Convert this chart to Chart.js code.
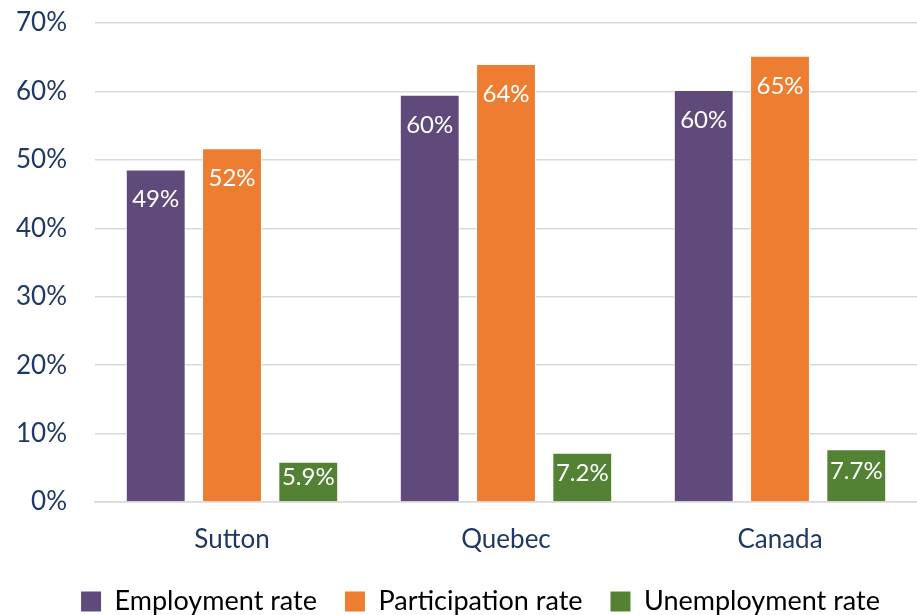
<!DOCTYPE html>
<html>
<head>
<meta charset="utf-8">
<script src="https://cdn.jsdelivr.net/npm/chart.js@4/dist/chart.umd.min.js"></script>
<style>
  html, body { margin: 0; padding: 0; background: #fff; }
  #wrap { width: 917px; height: 615px; }
</style>
</head>
<body>
<div id="wrap"><canvas id="chart" width="917" height="615"></canvas></div>
<script>
const places = ["Sutton", "Quebec", "Canada"];
const employment = [48.6, 59.5, 60.2];
const participation = [51.7, 64.0, 65.2];
const unemployment = [5.9, 7.2, 7.7];
const employmentLabels = ["49%", "60%", "60%"];
const participationLabels = ["52%", "64%", "65%"];
const unemploymentLabels = ["5.9%", "7.2%", "7.7%"];

const navy = "#1F3864";
const fontFamily = "Lato, 'Open Sans', sans-serif";

// draw the value labels inside the bar tops
const barLabels = {
  id: "barLabels",
  afterDatasetsDraw(chart) {
    const ctx = chart.ctx;
    ctx.save();
    ctx.fillStyle = "#fff";
    ctx.font = "24px " + fontFamily;
    ctx.textAlign = "center";
    ctx.textBaseline = "middle";
    chart.data.datasets.forEach((ds, di) => {
      const meta = chart.getDatasetMeta(di);
      meta.data.forEach((bar, i) => {
        const h = bar.base - bar.y;
        const y = bar.y + Math.min(30, h / 2 - 4);
        ctx.fillText(ds.valueLabels[i], bar.x, y);
      });
    });
    ctx.restore();
  }
};

// shorter legend box, nudged a bit to the right and down
const legendTweak = {
  id: "legendTweak",
  afterInit(chart) {
    const legend = chart.legend;
    const fit = legend.fit;
    const draw = legend.draw;
    legend.fit = function () {
      fit.call(this);
      this.height = 62;
    };
    legend.draw = function () {
      const ctx = this.ctx;
      ctx.save();
      ctx.translate(22, 7);
      draw.call(this);
      ctx.restore();
    };
  }
};

new Chart(document.getElementById("chart"), {
  type: "bar",
  data: {
    labels: places,
    datasets: [
      { label: "Employment rate", data: employment, valueLabels: employmentLabels,
        backgroundColor: "#604A7B", borderColor: "#ffffff", borderWidth: 1 },
      { label: "Participation rate", data: participation, valueLabels: participationLabels,
        backgroundColor: "#ED7D31", borderColor: "#ffffff", borderWidth: 1 },
      { label: "Unemployment rate", data: unemployment, valueLabels: unemploymentLabels,
        backgroundColor: "#548235", borderColor: "#ffffff", borderWidth: 1 }
    ]
  },
  options: {
    responsive: false,
    animation: false,
    categoryPercentage: 0.835,
    barPercentage: 0.785,
    layout: { padding: { left: 0, right: 0, top: 23, bottom: 0 } },
    plugins: {
      legend: {
        position: "bottom",
        labels: {
          color: navy,
          font: { size: 27, family: fontFamily },
          boxWidth: 20,
          boxHeight: 20,
          padding: 28,
          generateLabels(chart) {
            return chart.data.datasets.map((ds, i) => ({
              text: ds.label,
              fillStyle: ds.backgroundColor,
              strokeStyle: ds.backgroundColor,
              lineWidth: 0,
              datasetIndex: i
            }));
          }
        }
      },
      tooltip: { enabled: false }
    },
    scales: {
      x: {
        grid: { display: false, drawTicks: false },
        border: { color: "#D9D9D9", width: 1.5 },
        ticks: { color: navy, font: { size: 26, family: fontFamily }, padding: 22 },
        afterFit(scale) {
          scale.height = 51;
          scale.paddingLeft = 0;
          scale.paddingRight = 0;
        }
      },
      y: {
        min: 0,
        max: 70,
        grid: { color: "#D9D9D9", lineWidth: 1.5, drawTicks: false },
        border: { display: false },
        ticks: {
          stepSize: 10,
          color: navy,
          font: { size: 26, family: fontFamily },
          padding: 28,
          callback: v => v + "%"
        },
        afterFit(scale) {
          scale.width = 95;
          scale.paddingTop = 0;
          scale.paddingBottom = 0;
        }
      }
    }
  },
  plugins: [barLabels, legendTweak]
});
</script>
</body>
</html>
